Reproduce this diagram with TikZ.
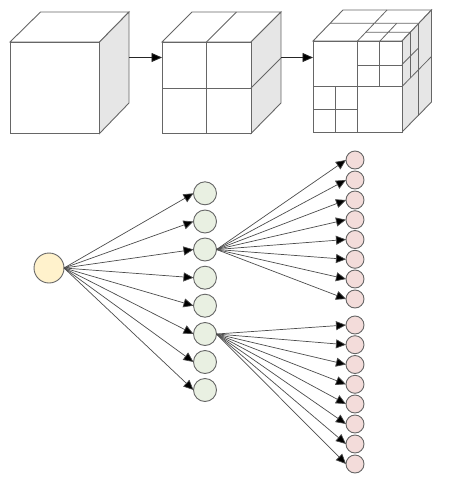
\documentclass[tikz,border=0pt]{standalone}
\usetikzlibrary{arrows.meta}
\definecolor{rootfill}{HTML}{FFF2CC}
\definecolor{midfill}{HTML}{E9F0E2}
\definecolor{leaffill}{HTML}{F3DCDA}
\definecolor{sidefill}{HTML}{E6E6E6}
\definecolor{edgegray}{HTML}{666666}
\tikzset{
  cubeline/.style={draw=edgegray,line width=0.9pt,line join=miter},
  thinline/.style={draw=edgegray,line width=0.8pt},
  frontface/.style={cubeline,fill=white,minimum width=#1,inner sep=0pt,outer sep=0pt},
  sideface/.style={cubeline,fill=sidefill},
  topface/.style={cubeline,fill=white},
  root/.style={circle,draw=edgegray,line width=0.9pt,fill=rootfill,minimum size=30pt,inner sep=0pt,outer sep=0pt},
  mid/.style={circle,draw=edgegray,line width=0.9pt,fill=midfill,minimum size=23pt,inner sep=0pt,outer sep=0pt},
  leaf/.style={circle,draw=edgegray,line width=0.9pt,fill=leaffill,minimum size=18pt,inner sep=0pt,outer sep=0pt},
  edge/.style={draw=black!70,line width=0.7pt,-{Triangle[length=10pt,width=9pt,fill=black]}},
  stage/.style={draw=black!85,line width=0.8pt,-{Triangle[length=10.5pt,width=9pt,fill=black]}}
}
\begin{document}
\begin{tikzpicture}[x=1pt,y=-1pt]
\useasboundingbox (0,0) rectangle (451,480);
% cube 1
\path[topface] (10,42) -- (40.5,12) -- (129,12) -- (99.5,42) -- cycle;
\path[sideface] (99.5,42) -- (129,12) -- (129,103) -- (99.5,133.5) -- cycle;
\node[frontface=89.5pt,minimum height=91.5pt] (c1) at (54.75,87.75) {};
\coordinate (s1) at (129,57.5);
% cube 2
\path[topface] (162,42) -- (192,12) -- (281,12) -- (251,42) -- cycle;
\path[sideface] (251,42) -- (281,12) -- (281,103) -- (251,133.5) -- cycle;
\node[frontface=89pt,minimum height=91.5pt] (c2) at (206.5,87.75) {};
\draw[thinline] (206.5,42) -- (206.5,133.5) (162,88) -- (251,88);
\draw[thinline] (206.5,42) -- (236.5,12) (251,88) -- (281,58);
\coordinate (s2) at (281,57.5);
% cube 3
\path[topface] (313,41) -- (343,10) -- (431.5,10) -- (402,41) -- cycle;
\path[sideface] (402,41) -- (431.5,10) -- (431.5,102) -- (402,132) -- cycle;
\node[frontface=89pt,minimum height=91pt] (c3) at (357.5,86.5) {};
\draw[thinline] (357.5,41) -- (357.5,132) (313,86.5) -- (402,86.5);
\draw[thinline] (379.5,41) -- (379.5,86.5) (357.5,65) -- (402,65);
\draw[thinline] (335.5,86.5) -- (335.5,132) (313,109.5) -- (357.5,109.5);
\draw[thinline] (357.5,41) -- (387,10) (330,23.3) -- (418,23.3);
\draw[thinline] (365,32.3) -- (410,32.3) (380,41) -- (396.7,23.3);
\draw[thinline] (418,23.3) -- (418,116) (410,32.3) -- (410,78);
\draw[thinline] (402,86.5) -- (431.5,56.5) (402,64.5) -- (418,48.5);
% stage arrows
\draw[stage] (s1) -- (c2.west |- s1);
\draw[stage] (s2) -- (c3.west |- s2);
% tree
\node[root] (r) at (49,268) {};
\foreach \n/\y in {1/193.3,2/221.5,3/249.5,4/277.7,5/305.7,6/334,7/362,8/390}{
  \node[mid] (m\n) at (205,\y) {};
  \draw[edge] (r.east) -- (m\n.west);
}
\foreach \n/\y in {1/160,2/180,3/200,4/219.7,5/239.5,6/259.3,7/279,8/299}{
  \node[leaf] (a\n) at (355,\y) {};
  \draw[edge] (m3.east) -- (a\n.west);
}
\foreach \n/\y in {1/325,2/344.7,3/364.5,4/384.3,5/404,6/424,7/444,8/464}{
  \node[leaf] (b\n) at (355,\y) {};
  \draw[edge] (m6.east) -- (b\n.west);
}
\end{tikzpicture}
\end{document}
